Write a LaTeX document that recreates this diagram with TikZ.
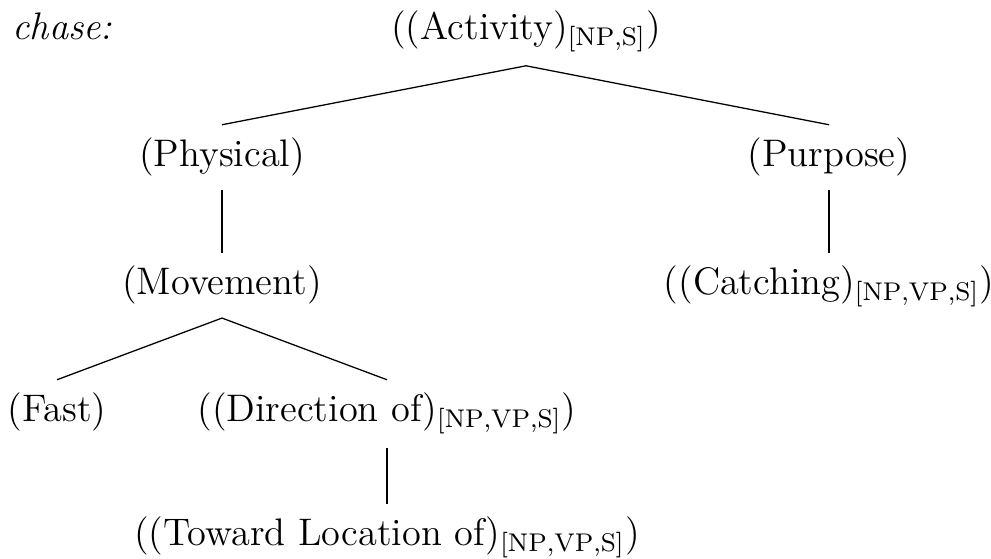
\documentclass[12pt,tikz,border=0pt]{standalone}
\usepackage{amsmath}
\newcommand{\featnode}[2]{((#1)$_{[\mathrm{#2}]}$)}
\begin{document}
\begin{tikzpicture}[x=0.3125pt, y=-0.3125pt]
    \useasboundingbox (0, 0) rectangle (991, 559);
    \node[anchor=base west, inner sep=0pt] (word) at (12, 40) {\textit{chase:}};
    \node[anchor=base] (act) at (526, 40) {\featnode{Activity}{NP,S}};
    \node[anchor=base] (phys) at (222, 167) {(Physical)};
    \node[anchor=base] (purp) at (829, 167) {(Purpose)};
    \node[anchor=base] (move) at (222, 295) {(Movement)};
    \node[anchor=base] (catch) at (829, 295) {\featnode{Catching}{NP,VP,S}};
    \node[anchor=base] (fast) at (57, 422) {(Fast)};
    \node[anchor=base] (dir) at (387, 422) {\featnode{Direction of}{NP,VP,S}};
    \node[anchor=base] (tow) at (387, 546) {\featnode{Toward Location of}{NP,VP,S}};
    \draw (act.south) -- (phys.north);
    \draw (act.south) -- (purp.north);
    \draw (phys.south) -- (move.north);
    \draw (purp.south) -- (catch.north);
    \draw (move.south) -- (fast.north);
    \draw (move.south) -- (dir.north);
    \draw (dir.south) -- (tow.north);
\end{tikzpicture}
\end{document}
